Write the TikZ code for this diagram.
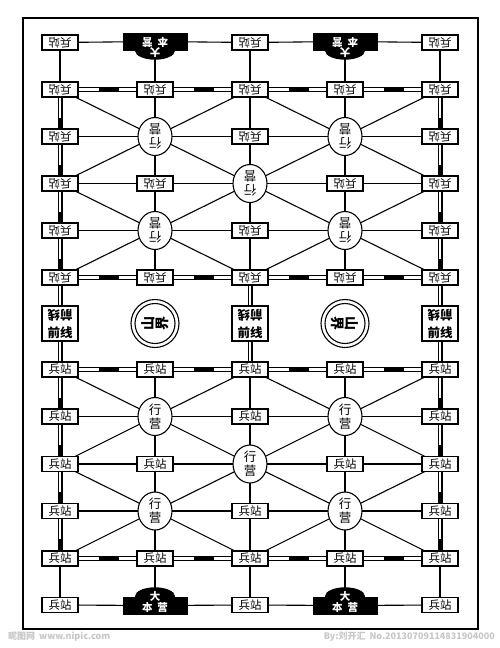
\documentclass[tikz,border=0pt]{standalone}
\usepackage{fontspec}
\newfontfamily\cjk{Noto Sans CJK SC}
\usetikzlibrary{shapes.geometric}
\pgfdeclarelayer{bg}
\pgfsetlayers{bg,main}
\begin{document}
\begin{tikzpicture}[x=1pt,y=-1pt,
  st/.style={draw, line width=1.1pt, fill=white, minimum width=36pt, minimum height=15pt, inner sep=0pt, font=\cjk\fontsize{11.5}{12}\selectfont},
  stu/.style={st, rotate=180},
  camp/.style={ellipse, draw, line width=1.1pt, fill=white, minimum width=34pt, minimum height=38pt, inner sep=0pt, align=center, font=\cjk\fontsize{12.5}{14}\selectfont},
  frontbox/.style={draw, line width=1.1pt, fill=white, minimum width=36pt, minimum height=35pt, inner sep=0pt},
  fronttxt/.style={inner sep=0pt, font=\cjk\bfseries\fontsize{12.5}{13}\selectfont},
  hqbox/.style={fill=black, minimum width=65pt, minimum height=18pt, inner sep=0pt},
  hqtxt/.style={inner sep=0pt, text=white, font=\cjk\bfseries\fontsize{10.5}{11}\selectfont},
  mtn/.style={circle, draw, line width=1.1pt, fill=white, inner sep=0pt},
  mtntxt/.style={inner sep=0pt, align=center, font=\cjk\bfseries\fontsize{14}{14}\selectfont},
  road/.style={line width=1.1pt},
  railo/.style={line width=5pt},
  raili/.style={white, line width=2.6pt, dash pattern=on 20pt off 20pt},
  wm/.style={inner sep=0pt, text=black!22, font=\cjk\bfseries\fontsize{9}{9}\selectfont}
]
\begin{pgfonlayer}{bg}
\fill[white] (0,0) rectangle (500,648);
\end{pgfonlayer}
\useasboundingbox (0,0) rectangle (500,648);
\def\xs{{0,60,155,250,345,440}}
\def\ys{{0,42.5,89.5,136.5,183.5,230.5,277.5,323.5,369.5,416.5,464,511,558.5,605}}

% frame
\draw[line width=2.5pt] (23,18) rectangle (478,629);

% stations
\foreach \c/\r in {1/1,3/1,5/1, 1/2,2/2,3/2,4/2,5/2, 1/3,3/3,5/3, 1/4,2/4,4/4,5/4, 1/5,3/5,5/5, 1/6,2/6,3/6,4/6,5/6}{
  \pgfmathsetmacro\xx{\xs[\c]}
  \pgfmathsetmacro\yy{\ys[\r]}
  \pgfmathtruncatemacro\rr{14-\r}
  \pgfmathsetmacro\yb{\ys[\rr]}
  \node[stu] (p-\c-\r) at (\xx,\yy) {兵站};
  \node[st] (p-\c-\rr) at (\xx,\yb) {兵站};
}
% camps
\foreach \c/\r in {2/3,4/3,3/4,2/5,4/5}{
  \pgfmathsetmacro\xx{\xs[\c]}
  \pgfmathsetmacro\yy{\ys[\r]}
  \pgfmathtruncatemacro\rr{14-\r}
  \pgfmathsetmacro\yb{\ys[\rr]}
  \node[camp, rotate=180] (p-\c-\r) at (\xx,\yy) {行\\营};
  \node[camp] (p-\c-\rr) at (\xx,\yb) {行\\营};
}
% headquarters
\foreach \c in {2,4}{
  \pgfmathsetmacro\xx{\xs[\c]}
  \node[hqbox] (p-\c-1) at (\xx,41.5) {};
  \fill (p-\c-1.south) ellipse [x radius=20, y radius=9];
  \node[hqtxt, rotate=180] (ta-\c) at (\xx,42) {本\hspace{5pt}营};
  \node[hqtxt, rotate=180] (tb-\c) at (\xx,52.5) {大};
  \node[hqbox] (p-\c-13) at (\xx,605.5) {};
  \fill (p-\c-13.north) ellipse [x radius=20, y radius=9];
  \node[hqtxt] (tc-\c) at (\xx,608) {本\hspace{5pt}营};
  \node[hqtxt] (td-\c) at (\xx,596) {大};
}
% front line
\foreach \c in {1,3,5}{
  \pgfmathsetmacro\xx{\xs[\c]}
  \node[frontbox] (p-\c-7) at (\xx,323.5) {};
  \node[fronttxt, rotate=180] (fu-\c) at (\xx,315) {前线};
  \node[fronttxt] (fd-\c) at (\xx,332.5) {前线};
}
% mountains
\node[mtn, minimum size=48pt] (p-2-7) at (155,323.5) {};
\node[mtn, minimum size=40pt] (q-2) at (155,323.5) {};
\node[mtntxt, rotate=90] (s-2) at (155,323.5) {山\\界};
\node[mtn, minimum size=48pt] (p-4-7) at (345,323.5) {};
\node[mtn, minimum size=40pt] (q-4) at (345,323.5) {};
\node[mtntxt, rotate=-90] (s-4) at (345,323.5) {山\\界};

% watermark
\node[wm, anchor=west] (w1) at (8,637) {昵图网\hspace{4pt}www.nipic.com};
\node[wm, anchor=east] (w2) at (495,637) {By:刘开汇\hspace{4pt}No.20130709114831904000};

\begin{pgfonlayer}{bg}
% roads, top and bottom half
\foreach \a/\b/\c/\d in {1/1/2/1, 2/1/3/1, 3/1/4/1, 4/1/5/1,
  1/1/1/2, 2/1/2/2, 3/1/3/2, 4/1/4/2, 5/1/5/2,
  1/3/2/3, 2/3/3/3, 3/3/4/3, 4/3/5/3,
  1/4/2/4, 2/4/3/4, 3/4/4/4, 4/4/5/4,
  1/5/2/5, 2/5/3/5, 3/5/4/5, 4/5/5/5,
  2/2/2/3, 2/3/2/4, 2/4/2/5, 2/5/2/6,
  3/2/3/3, 3/3/3/4, 3/4/3/5, 3/5/3/6,
  4/2/4/3, 4/3/4/4, 4/4/4/5, 4/5/4/6,
  1/2/2/3, 2/3/3/4, 3/4/4/5, 4/5/5/6,
  5/2/4/3, 4/3/3/4, 3/4/2/5, 2/5/1/6,
  3/2/2/3, 2/3/1/4, 3/2/4/3, 4/3/5/4,
  1/4/2/5, 2/5/3/6, 5/4/4/5, 4/5/3/6}{
  \pgfmathtruncatemacro\bb{14-\b}
  \pgfmathtruncatemacro\dd{14-\d}
  \draw[road] (p-\a-\b.center) -- (p-\c-\d.center);
  \draw[road] (p-\a-\bb.center) -- (p-\c-\dd.center);
}
% railways
\foreach \a/\b/\c/\d in {1/2/2/2, 2/2/3/2, 3/2/4/2, 4/2/5/2,
  1/6/2/6, 2/6/3/6, 3/6/4/6, 4/6/5/6,
  1/8/2/8, 2/8/3/8, 3/8/4/8, 4/8/5/8,
  1/12/2/12, 2/12/3/12, 3/12/4/12, 4/12/5/12,
  1/2/1/3, 1/3/1/4, 1/4/1/5, 1/5/1/6, 1/6/1/7, 1/7/1/8, 1/8/1/9, 1/9/1/10, 1/10/1/11, 1/11/1/12,
  5/2/5/3, 5/3/5/4, 5/4/5/5, 5/5/5/6, 5/6/5/7, 5/7/5/8, 5/8/5/9, 5/9/5/10, 5/10/5/11, 5/11/5/12,
  3/6/3/7, 3/7/3/8}{
  \draw[railo] (p-\a-\b) -- (p-\c-\d);
  \draw[raili] (p-\a-\b) -- (p-\c-\d);
}
\end{pgfonlayer}
\end{tikzpicture}
\end{document}
